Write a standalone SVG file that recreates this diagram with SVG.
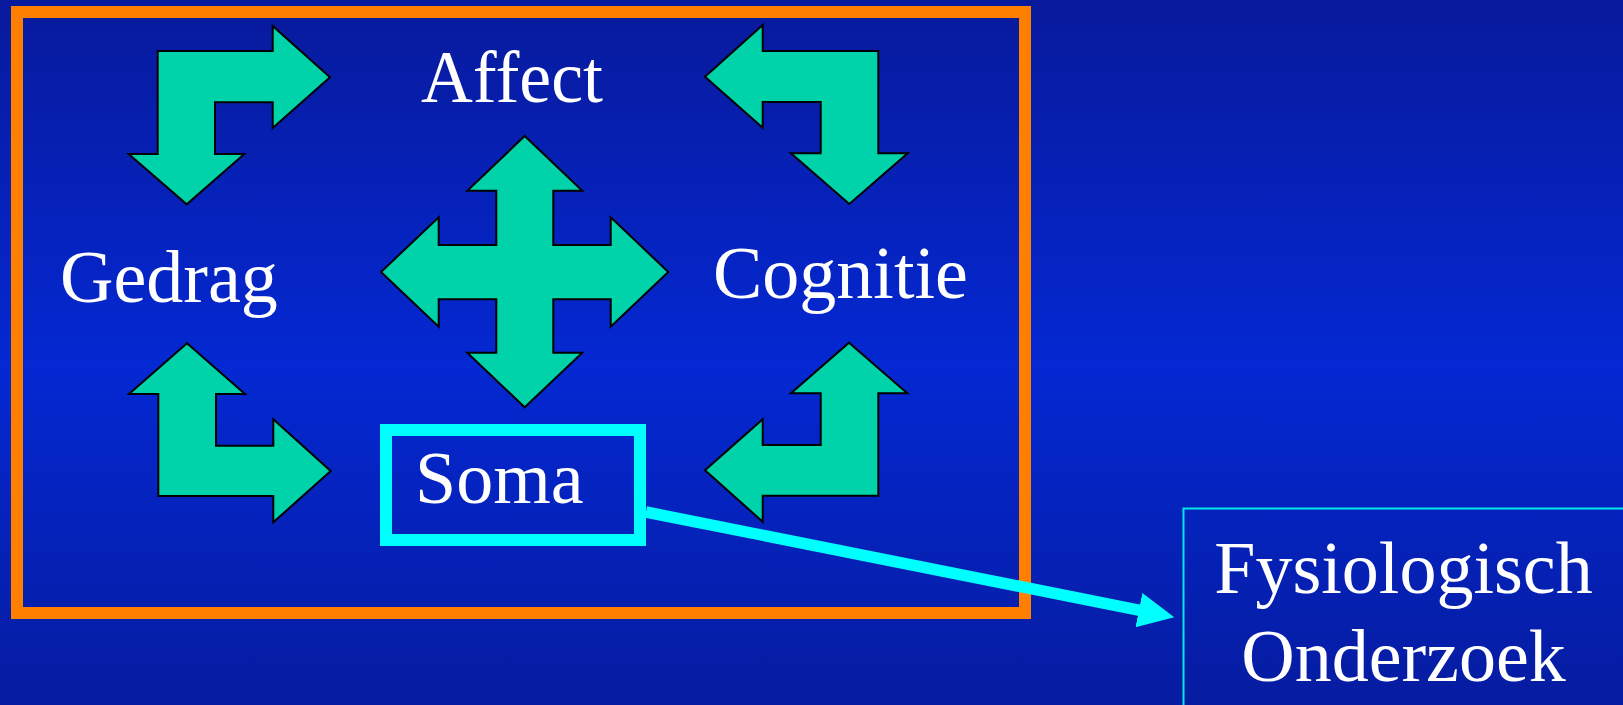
<svg xmlns="http://www.w3.org/2000/svg" width="1623" height="705" viewBox="0 0 1623 705">
  <defs>
    <linearGradient id="bg" x1="0" y1="0" x2="0" y2="1">
      <stop offset="0" stop-color="#081A9C"/>
      <stop offset="0.52" stop-color="#0428D2"/>
      <stop offset="1" stop-color="#061CA0"/>
    </linearGradient>
    <marker id="head" markerUnits="userSpaceOnUse" markerWidth="37" markerHeight="36" viewBox="0 0 37 36" refX="1" refY="18" orient="auto">
      <path d="M0,0.5 L36,18 L0,35.5 Z" fill="#00FFFF"/>
    </marker>
    <style>
      .lbl { font-family: "Liberation Serif", "Times New Roman", serif; font-size: 74px; fill: #FFFFFF; }
      .arrow { fill: #00D2AA; stroke: #000000; stroke-width: 2; stroke-linejoin: miter; }
      .frame { fill: none; stroke: #FF8000; stroke-width: 12; }
      .soma { fill: none; stroke: #00FFFF; stroke-width: 12; }
      .fys { fill: none; stroke: #00E8E8; stroke-width: 2; }
      .conn { stroke: #00FFFF; stroke-width: 11.5; fill: none; }
    </style>
  </defs>

  <rect x="0" y="0" width="1623" height="705" fill="url(#bg)"/>

  <g id="frame">
    <rect class="frame" x="17" y="12" width="1008" height="601"/>
  </g>

  <g id="arrows">
    <polygon id="arrow-tl" class="arrow" points="157.7,51 272.7,51 272.7,26 330,77.3 272.7,128 272.7,102.3 215,102.3 215,154 244.3,154 186.7,204.3 128.7,154 157.7,154"/>
    <polygon id="arrow-tr" class="arrow" points="705,76.7 762.7,25 762.7,51 878.3,51 878.3,153.3 907.7,153.3 849.3,204 791,153.3 820.7,153.3 820.7,102 762.7,102 762.7,127.7"/>
    <polygon id="arrow-bl" class="arrow" points="187,343.3 245,394 216,394 216,445.7 273.3,445.7 273.3,419.3 330.7,471 273.3,522.3 273.3,496 158.3,496 158.3,394 129,394"/>
    <polygon id="arrow-br" class="arrow" points="849,342.7 907.3,393.3 878.3,393.3 878.3,495.7 762.7,495.7 762.7,521.7 705,470.3 762.7,419.3 762.7,445 820.7,445 820.7,393.3 791,393.3"/>
    <polygon id="arrow-center" class="arrow" points="524.7,136 582.3,190.7 553.3,190.7 553.3,245 610.7,245 610.7,217.3 668.3,272 610.7,326.7 610.7,299.3 553.3,299.3 553.3,352.7 582.3,352.7 524.7,407.3 467.3,352.7 496.3,352.7 496.3,299.3 438.7,299.3 438.7,326.7 381,272 438.7,217.3 438.7,245 496.3,245 496.3,190.7 467.3,190.7"/>
  </g>

  <g id="node-affect">
    <text class="lbl" x="421" y="102" textLength="182" lengthAdjust="spacingAndGlyphs">Affect</text>
  </g>
  <g id="node-gedrag">
    <text class="lbl" x="60" y="302">Gedrag</text>
  </g>
  <g id="node-cognitie">
    <text class="lbl" x="713" y="298">Cognitie</text>
  </g>
  <g id="node-soma">
    <rect class="soma" x="386" y="430" width="254" height="110"/>
    <text class="lbl" x="415" y="503">Soma</text>
  </g>
  <g id="node-fysiologisch">
    <rect class="fys" x="1183.5" y="508.5" width="480" height="210"/>
    <text class="lbl" x="1403.5" y="593" text-anchor="middle">Fysiologisch</text>
    <text class="lbl" x="1403.5" y="681" text-anchor="middle">Onderzoek</text>
  </g>

  <g id="connectors">
    <line class="conn" x1="646" y1="512" x2="1139.9" y2="610.4" marker-end="url(#head)"/>
  </g>
</svg>
